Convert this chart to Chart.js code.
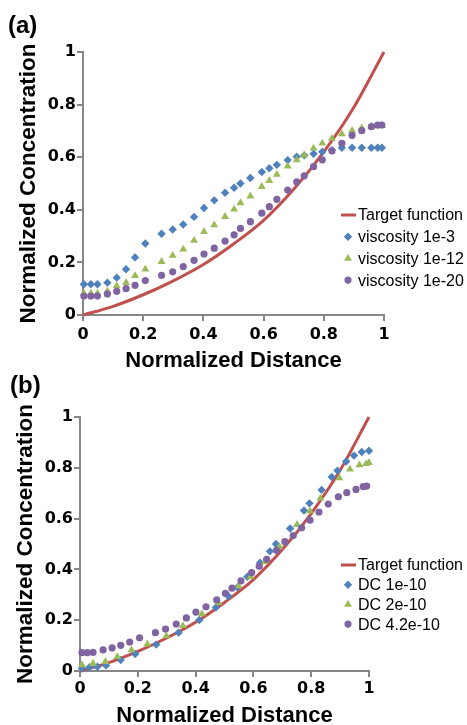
<!DOCTYPE html>
<html>
<head>
<meta charset="utf-8">
<script src="https://cdn.jsdelivr.net/npm/chart.js@4/dist/chart.umd.min.js"></script>
<style>
  html, body { margin: 0; padding: 0; background: #fff; }
  body { width: 467px; height: 725px; position: relative; overflow: hidden; }
  canvas { position: absolute; left: 0; }
  #panelA { top: 0; }
  #panelB { top: 362px; }
</style>
</head>
<body>
<canvas id="panelA" width="467" height="372"></canvas>
<canvas id="panelB" width="467" height="363"></canvas>
<script>
// Axis tick labels (same on both axes, both panels)
const tickLabels = ['0', '0.2', '0.4', '0.6', '0.8', '1'];

// Target function (both panels)
const targetX = [0, 0.1, 0.2, 0.3, 0.4, 0.5, 0.6, 0.7, 0.8, 0.9, 1];
const targetY = [0, 0.033, 0.077, 0.13, 0.192, 0.27, 0.36, 0.478, 0.62, 0.79, 1];

// Panel (a): viscosity runs, all sampled at the same distances
const distA = [0.003, 0.026, 0.048, 0.081, 0.112, 0.143, 0.173, 0.207, 0.261, 0.298, 0.333,
  0.369, 0.402, 0.436, 0.472, 0.502, 0.523, 0.556, 0.594, 0.619, 0.644, 0.68, 0.71,
  0.735, 0.766, 0.795, 0.827, 0.86, 0.894, 0.926, 0.958, 0.979, 0.993];
const visc1e3 = [0.117, 0.117, 0.117, 0.123, 0.142, 0.174, 0.219, 0.272, 0.309, 0.325, 0.344,
  0.373, 0.407, 0.436, 0.465, 0.484, 0.5, 0.521, 0.544, 0.558, 0.571, 0.589, 0.602,
  0.607, 0.613, 0.621, 0.627, 0.636, 0.636, 0.636, 0.636, 0.636, 0.636];
const visc1e12 = [0.082, 0.082, 0.082, 0.09, 0.11, 0.123, 0.149, 0.174, 0.203, 0.226, 0.25,
  0.283, 0.317, 0.342, 0.374, 0.402, 0.426, 0.452, 0.488, 0.511, 0.534, 0.566, 0.59,
  0.608, 0.634, 0.653, 0.671, 0.688, 0.701, 0.711, 0.716, 0.719, 0.72];
const visc1e20 = [0.072, 0.072, 0.072, 0.08, 0.09, 0.1, 0.113, 0.131, 0.151, 0.164, 0.184,
  0.208, 0.232, 0.254, 0.281, 0.305, 0.329, 0.355, 0.387, 0.412, 0.44, 0.475, 0.506,
  0.529, 0.564, 0.59, 0.624, 0.653, 0.683, 0.701, 0.716, 0.722, 0.722];

// Panel (b): diffusion coefficient runs
const dc1X = [0.007, 0.033, 0.06, 0.09, 0.141, 0.191, 0.264, 0.341, 0.413, 0.47, 0.513, 0.545,
  0.579, 0.623, 0.657, 0.678, 0.727, 0.775, 0.794, 0.836, 0.871, 0.891, 0.921, 0.948, 0.975, 1.0];
const dc1Y = [0.01, 0.015, 0.017, 0.022, 0.043, 0.067, 0.104, 0.151, 0.201, 0.25, 0.295, 0.33,
  0.371, 0.426, 0.471, 0.5, 0.561, 0.632, 0.66, 0.713, 0.764, 0.789, 0.825, 0.848, 0.862, 0.867];
const dc2X = [0.007, 0.045, 0.088, 0.129, 0.178, 0.233, 0.299, 0.356, 0.422, 0.479, 0.548,
  0.59, 0.64, 0.69, 0.751, 0.796, 0.832, 0.897, 0.934, 0.967, 0.99, 1.0];
const dc2Y = [0.024, 0.03, 0.037, 0.056, 0.083, 0.106, 0.138, 0.178, 0.225, 0.269, 0.335,
  0.371, 0.43, 0.49, 0.576, 0.63, 0.68, 0.76, 0.794, 0.811, 0.816, 0.82];
const dc42X = [0.007, 0.025, 0.045, 0.08, 0.111, 0.141, 0.172, 0.206, 0.261, 0.296, 0.333,
  0.368, 0.401, 0.436, 0.473, 0.503, 0.526, 0.557, 0.594, 0.62, 0.646, 0.68, 0.709,
  0.738, 0.767, 0.796, 0.827, 0.859, 0.894, 0.923, 0.955, 0.98, 0.992];
const dc42Y = [0.072, 0.072, 0.073, 0.083, 0.091, 0.101, 0.114, 0.131, 0.151, 0.165, 0.185,
  0.209, 0.232, 0.253, 0.28, 0.306, 0.326, 0.355, 0.387, 0.412, 0.44, 0.475, 0.509,
  0.533, 0.564, 0.594, 0.626, 0.657, 0.686, 0.702, 0.715, 0.726, 0.728];

const RED = '#C0504D', BLUE = '#4F81BD', GREEN = '#9BBB59', PURPLE = '#8064A2';
const axisGray = '#878787';
const sans = '"Liberation Sans", Arial, sans-serif';

function pts(xs, ys) {
  return xs.map((x, i) => ({ x: x, y: ys[i] }));
}

function targetSet(label) {
  return {
    type: 'line', label: label, data: pts(targetX, targetY),
    borderColor: RED, backgroundColor: RED, borderWidth: 3,
    pointRadius: 0, cubicInterpolationMode: 'monotone', fill: false, clip: false, order: 4
  };
}

function markerSet(label, xs, ys, color, style, radius, order) {
  return {
    type: 'scatter', label: label, data: pts(xs, ys),
    backgroundColor: color, borderColor: color, pointStyle: style,
    pointRadius: radius, pointHoverRadius: radius, pointBorderWidth: 0,
    showLine: false, clip: false, order: order
  };
}

// draws panel letter, axis titles and the legend that sits over the plot
const panelDecor = {
  id: 'panelDecor',
  afterDraw(chart, args, o) {
    const ctx = chart.ctx;
    const area = chart.chartArea;
    ctx.save();
    ctx.fillStyle = '#000';
    ctx.textBaseline = 'alphabetic';

    ctx.font = 'bold 24px ' + sans;
    ctx.textAlign = 'left';
    ctx.fillText(o.letter, o.letterX, o.letterY);

    ctx.font = 'bold ' + o.xTitleSize + 'px ' + sans;
    ctx.textAlign = 'center';
    ctx.fillText(o.xTitle, (area.left + area.right) / 2, o.xTitleY);

    ctx.save();
    ctx.translate(o.yTitleX, (area.top + area.bottom) / 2);
    ctx.rotate(-Math.PI / 2);
    ctx.font = 'bold ' + o.yTitleSize + 'px ' + sans;
    ctx.fillText(o.yTitle, 0, 0);
    ctx.restore();

    // legend
    ctx.font = '16px ' + sans;
    ctx.textAlign = 'left';
    ctx.textBaseline = 'middle';
    chart.data.datasets.forEach((ds, i) => {
      const y = o.legendY + i * o.legendGap;
      if (ds.type === 'line') {
        ctx.strokeStyle = ds.borderColor;
        ctx.lineWidth = 3;
        ctx.beginPath();
        ctx.moveTo(o.legendX, y);
        ctx.lineTo(o.legendX + 15, y);
        ctx.stroke();
      } else {
        ctx.fillStyle = ds.backgroundColor;
        Chart.helpers.drawPoint(ctx, { pointStyle: ds.pointStyle, radius: ds.pointRadius, rotation: 0, borderWidth: 0 }, o.legendX + 7, y);
      }
      ctx.fillStyle = '#000';
      ctx.fillText(ds.label, o.legendX + 17, y + 1);
    });
    ctx.restore();
  }
};
Chart.register(panelDecor);

const tickFont = { family: '"DejaVu Sans", sans-serif', size: 16, weight: 'bold' };

function axis(fit, pad) {
  return {
    type: 'linear', min: 0, max: 1,
    afterFit: fit,
    ticks: {
      stepSize: 0.2, padding: pad, font: tickFont, color: '#000', autoSkip: false,
      callback: (v, i) => tickLabels[i]
    },
    grid: { drawOnChartArea: false, drawTicks: true, tickLength: 6, color: axisGray, lineWidth: 2 },
    border: { display: true, color: axisGray, width: 2 }
  };
}

function panelOptions(c, decor) {
  return {
    responsive: false,
    animation: false,
    devicePixelRatio: 1,
    layout: { padding: { left: 0, top: c.top, right: c.right, bottom: 0 } },
    plugins: { legend: { display: false }, tooltip: { enabled: false }, panelDecor: decor },
    scales: {
      x: axis(s => { s.height = c.xHeight; }, c.xPad),
      y: axis(s => { s.width = c.yWidth; }, 1)
    }
  };
}

new Chart(document.getElementById('panelA'), {
  type: 'scatter',
  data: {
    datasets: [
      targetSet('Target function'),
      markerSet('viscosity 1e-3', distA, visc1e3, BLUE, 'rectRot', 4.2, 3),
      markerSet('viscosity 1e-12', distA, visc1e12, GREEN, 'triangle', 4.6, 2),
      markerSet('viscosity 1e-20', distA, visc1e20, PURPLE, 'circle', 3.6, 1)
    ]
  },
  options: panelOptions(
    { top: 52, right: 83, xHeight: 57, yWidth: 83, xPad: 4 },
    { letter: '(a)', letterX: 8, letterY: 33,
      xTitle: 'Normalized Distance', xTitleSize: 22, xTitleY: 367,
      yTitle: 'Normalized Concentration', yTitleSize: 22.5, yTitleX: 35,
      legendX: 341, legendY: 215, legendGap: 21.7 })
});

new Chart(document.getElementById('panelB'), {
  type: 'scatter',
  data: {
    datasets: [
      targetSet('Target function'),
      markerSet('DC 1e-10', dc1X, dc1Y, BLUE, 'rectRot', 4.2, 3),
      markerSet('DC 2e-10', dc2X, dc2Y, GREEN, 'triangle', 4.6, 2),
      markerSet('DC 4.2e-10', dc42X, dc42Y, PURPLE, 'circle', 3.6, 1)
    ]
  },
  options: panelOptions(
    { top: 55, right: 98, xHeight: 54, yWidth: 80, xPad: 2 },
    { letter: '(b)', letterX: 10, letterY: 31,
      xTitle: 'Normalized Distance', xTitleSize: 22, xTitleY: 360,
      yTitle: 'Normalized Concentration', yTitleSize: 22.5, yTitleX: 32,
      legendX: 341, legendY: 203, legendGap: 19.7 })
});
</script>
</body>
</html>
